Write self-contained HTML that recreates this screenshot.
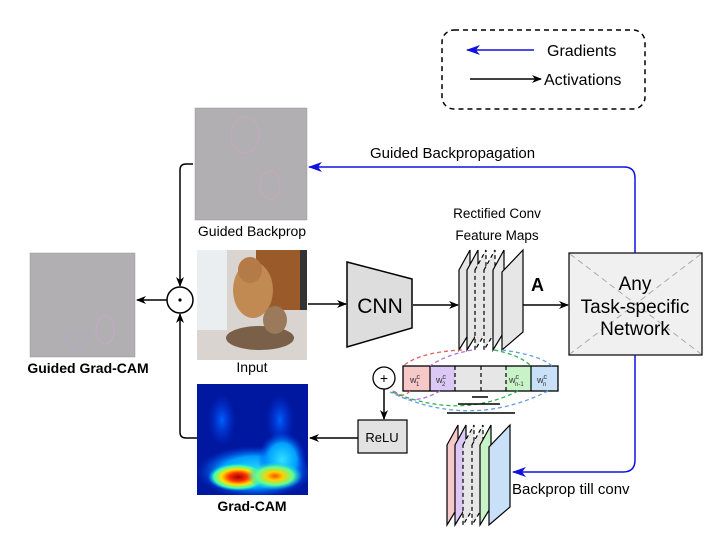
<!DOCTYPE html>
<html><head><meta charset="utf-8"><style>
html,body{margin:0;padding:0;background:#fff;}
svg{display:block;font-family:"Liberation Sans",sans-serif;}
</style></head><body>
<svg width="724" height="542" viewBox="0 0 724 542" xmlns="http://www.w3.org/2000/svg">
<defs>
<marker id="ab" markerWidth="10" markerHeight="10" refX="9" refY="5" orient="auto" markerUnits="userSpaceOnUse"><path d="M0,1 L10,5 L0,9 L3,5z" fill="#000"/></marker>
<marker id="abl" markerWidth="14" markerHeight="12" refX="13" refY="6" orient="auto" markerUnits="userSpaceOnUse"><path d="M0,1 L14,6 L0,11 L4,6z" fill="#1010e0"/></marker>
<clipPath id="gc"><rect x="197" y="384" width="111" height="111"/></clipPath>
<radialGradient id="hot1" cx="0.5" cy="0.5" r="0.5"><stop offset="0" stop-color="#a00000"/><stop offset="0.3" stop-color="#ff3000"/><stop offset="0.55" stop-color="#ffe000"/><stop offset="0.8" stop-color="#40ffb0"/><stop offset="1" stop-color="#00c0ff" stop-opacity="0"/></radialGradient>
<radialGradient id="hot2" cx="0.5" cy="0.5" r="0.5"><stop offset="0" stop-color="#ff5000"/><stop offset="0.3" stop-color="#ffd000"/><stop offset="0.65" stop-color="#60ff90"/><stop offset="1" stop-color="#00c0ff" stop-opacity="0"/></radialGradient>
<radialGradient id="cy" cx="0.5" cy="0.5" r="0.5"><stop offset="0" stop-color="#30e0ff"/><stop offset="0.6" stop-color="#00a0ff"/><stop offset="1" stop-color="#0040f0" stop-opacity="0"/></radialGradient>
<radialGradient id="bl" cx="0.5" cy="0.5" r="0.5"><stop offset="0" stop-color="#0060ff"/><stop offset="1" stop-color="#0030e0" stop-opacity="0"/></radialGradient>
</defs>

<!-- legend -->
<rect x="442" y="30" width="203" height="79" rx="12" fill="none" stroke="#000" stroke-width="1.5" stroke-dasharray="5,4"/>
<line x1="534" y1="50" x2="467" y2="50" stroke="#1010e0" stroke-width="1.5" marker-end="url(#abl)"/>
<text x="547" y="56" font-size="16">Gradients</text>
<line x1="470" y1="79" x2="541" y2="79" stroke="#000" stroke-width="1.5" marker-end="url(#ab)"/>
<text x="544" y="85" font-size="16">Activations</text>

<!-- guided backprop image -->
<rect x="195" y="108" width="112" height="112" fill="#b1afb1" stroke="#999" stroke-width="0.5"/>
<ellipse cx="245" cy="135" rx="14" ry="18" fill="none" stroke="#c8a8c0" stroke-width="1"/>
<ellipse cx="270" cy="185" rx="10" ry="14" fill="none" stroke="#c8a8c0" stroke-width="1"/>
<text x="252" y="236" font-size="14" text-anchor="middle">Guided Backprop</text>

<!-- input image -->
<rect x="197" y="250" width="110" height="110" fill="#d9d4cf"/>
<rect x="197" y="250" width="30" height="80" fill="#eaeef0"/>
<rect x="256" y="250" width="44" height="60" fill="#9a5a2a"/>
<rect x="300" y="250" width="7" height="60" fill="#333"/>
<ellipse cx="253" cy="290" rx="20" ry="28" fill="#c08a52"/>
<ellipse cx="250" cy="270" rx="12" ry="13" fill="#b47a48"/>
<ellipse cx="260" cy="338" rx="34" ry="12" fill="#7a6048"/>
<ellipse cx="275" cy="320" rx="12" ry="14" fill="#9a7a5a"/>
<text x="252" y="372" font-size="14" text-anchor="middle">Input</text>

<!-- grad-cam -->
<g clip-path="url(#gc)">
<rect x="197" y="384" width="111" height="111" fill="#0018a0"/>
<ellipse cx="222" cy="420" rx="14" ry="26" fill="url(#bl)"/>
<ellipse cx="280" cy="420" rx="14" ry="26" fill="url(#bl)"/>
<ellipse cx="255" cy="472" rx="58" ry="26" fill="url(#cy)"/>
<ellipse cx="282" cy="460" rx="24" ry="28" fill="url(#cy)"/>
<ellipse cx="238" cy="477" rx="30" ry="14" fill="url(#hot1)"/>
<ellipse cx="275" cy="476" rx="28" ry="14" fill="url(#hot2)"/>
</g>
<text x="252" y="511" font-size="14" font-weight="bold" text-anchor="middle">Grad-CAM</text>

<!-- guided grad-cam -->
<rect x="30" y="253" width="105" height="104" fill="#b1afb1" stroke="#999" stroke-width="0.5"/>
<ellipse cx="105" cy="330" rx="9" ry="14" fill="none" stroke="#c8a8c8"/>
<ellipse cx="76" cy="340" rx="11" ry="8" fill="none" stroke="#b8a8d0"/>
<text x="88" y="373" font-size="14" font-weight="bold" text-anchor="middle">Guided Grad-CAM</text>

<!-- dot circle -->
<circle cx="180" cy="300" r="13" fill="#fff" stroke="#000" stroke-width="1.5"/>
<circle cx="180" cy="300" r="1.6" fill="#000"/>
<line x1="167" y1="300" x2="137" y2="300" stroke="#000" stroke-width="1.5" marker-end="url(#ab)"/>
<path d="M193,164 L186,164 Q180,164 180,170 L180,286" fill="none" stroke="#000" stroke-width="1.5" marker-end="url(#ab)"/>
<path d="M197,438 L186,438 Q180,438 180,432 L180,314" fill="none" stroke="#000" stroke-width="1.5" marker-end="url(#ab)"/>

<!-- input to CNN -->
<line x1="308" y1="304" x2="346" y2="304" stroke="#000" stroke-width="1.5" marker-end="url(#ab)"/>
<polygon points="347,262 412,279 412,328 347,347" fill="#ddd" stroke="#000" stroke-width="1.5"/>
<text x="380" y="313" font-size="21" text-anchor="middle">CNN</text>
<line x1="413" y1="305" x2="458" y2="305" stroke="#000" stroke-width="1.5" marker-end="url(#ab)"/>

<!-- feature maps -->
<text x="497" y="218" font-size="13.5" text-anchor="middle">Rectified Conv</text>
<text x="497" y="240" font-size="13.5" text-anchor="middle">Feature Maps</text>
<g stroke="#000" stroke-width="1.2" fill="#e6e6e6">
<polygon points="459,270 470,250 470,332 459,350"/>
<polygon points="467,270 478,250 478,332 467,350"/>
<polygon points="475,270 486,250 486,332 475,350" stroke-dasharray="4,3"/>
<polygon points="484,270 495,250 495,332 484,350" stroke-dasharray="4,3"/>
<polygon points="493,270 504,250 504,332 493,350"/>
<polygon points="502,272 523,250 523,332 502,350"/>
</g>
<text x="531" y="291" font-size="18" font-weight="bold">A</text>
<line x1="523" y1="305" x2="568" y2="305" stroke="#000" stroke-width="1.5" marker-end="url(#ab)"/>

<!-- task box -->
<rect x="569" y="253" width="133" height="102" fill="#f0f0f0" stroke="#000" stroke-width="1.2"/>
<g stroke="#aaa" stroke-dasharray="6,4" stroke-width="1">
<line x1="570" y1="254" x2="701" y2="354"/><line x1="701" y1="254" x2="570" y2="354"/>
</g>
<text x="635" y="290" font-size="19" text-anchor="middle">Any</text>
<text x="635" y="313" font-size="19" text-anchor="middle">Task-specific</text>
<text x="635" y="335" font-size="19" text-anchor="middle">Network</text>

<!-- blue lines -->
<path d="M635,253 L635,178 Q635,167 624,167 L309,167" fill="none" stroke="#1010e0" stroke-width="1.5" marker-end="url(#abl)"/>
<text x="370" y="158" font-size="15">Guided Backpropagation</text>
<path d="M635,355 L635,460 Q635,472 623,472 L513,472" fill="none" stroke="#1010e0" stroke-width="1.5" marker-end="url(#abl)"/>
<text x="512" y="494" font-size="15">Backprop till conv</text>

<!-- weights -->
<rect x="403" y="366" width="27" height="25" fill="#f6c8c8"/>
<rect x="430" y="366" width="25" height="25" fill="#dcc8f4"/>
<rect x="455" y="366" width="51" height="25" fill="#e6e6e6"/>
<rect x="506" y="366" width="25" height="25" fill="#c8f2c8"/>
<rect x="531" y="366" width="27" height="25" fill="#c8e0f8"/>
<rect x="403" y="366" width="155" height="25" fill="none" stroke="#000" stroke-width="1.3"/>
<g stroke="#000" stroke-width="1.2"><line x1="430" y1="366" x2="430" y2="391"/><line x1="455" y1="366" x2="455" y2="391" stroke-dasharray="4,3"/><line x1="481" y1="366" x2="481" y2="391" stroke-dasharray="4,3"/><line x1="506" y1="366" x2="506" y2="391" stroke-dasharray="4,3"/><line x1="531" y1="366" x2="531" y2="391"/></g>
<g font-size="9" fill="#333">
<text x="410" y="383">w<tspan font-size="7" dy="-4">c</tspan><tspan font-size="6" dx="-4" dy="7">1</tspan></text>
<text x="436" y="383">w<tspan font-size="7" dy="-4">c</tspan><tspan font-size="6" dx="-4" dy="7">2</tspan></text>
<text x="509" y="383">w<tspan font-size="7" dy="-4">c</tspan><tspan font-size="6" dx="-4" dy="7">n-1</tspan></text>
<text x="537" y="383">w<tspan font-size="7" dy="-4">c</tspan><tspan font-size="6" dx="-4" dy="7">n</tspan></text>
</g>
<g fill="none" stroke-dasharray="4,3" stroke-width="1.3">
<path d="M462,350 Q420,352 403,366" stroke="#e06060"/>
<path d="M472,350 Q445,355 430,366" stroke="#b070e0"/>
<path d="M494,350 Q520,355 531,366" stroke="#30b050"/>
<path d="M502,350 Q540,355 552,366" stroke="#60a0e0"/>
<path d="M410,391 Q402,400 392,389" stroke="#e06060"/>
<path d="M440,391 Q410,408 393,391" stroke="#b070e0"/>
<path d="M518,391 Q460,420 392,392" stroke="#30b050"/>
<path d="M548,391 Q470,430 390,392" stroke="#60a0e0"/>
</g>
<g stroke="#000" stroke-width="1.5"><line x1="472" y1="397" x2="488" y2="397"/><line x1="458" y1="404" x2="500" y2="404"/><line x1="447" y1="413" x2="515" y2="413"/></g>

<circle cx="384" cy="378" r="11" fill="#fff" stroke="#000" stroke-width="1.3"/>
<text x="384" y="383" font-size="14" text-anchor="middle">+</text>
<line x1="384" y1="389" x2="384" y2="419" stroke="#000" stroke-width="1.5" marker-end="url(#ab)"/>
<rect x="358" y="420" width="49" height="33" fill="#e2e2e2" stroke="#000" stroke-width="1.2"/>
<text x="382" y="442" font-size="13" text-anchor="middle">ReLU</text>
<line x1="358" y1="438" x2="310" y2="438" stroke="#000" stroke-width="1.5" marker-end="url(#ab)"/>

<!-- bottom stack -->
<g stroke="#000" stroke-width="1.2">
<polygon points="447,445 458,425 458,507 447,525" fill="#f6c8c8"/>
<polygon points="455,445 466,425 466,507 455,525" fill="#dcc8f4"/>
<polygon points="463,445 474,425 474,507 463,525" fill="#e6e6e6" stroke-dasharray="4,3"/>
<polygon points="472,445 483,425 483,507 472,525" fill="#e6e6e6" stroke-dasharray="4,3"/>
<polygon points="480,445 491,425 491,507 480,525" fill="#c8f2c8"/>
<polygon points="489,447 510,425 510,507 489,525" fill="#c8e0f8"/>
</g>
</svg>
</body></html>
